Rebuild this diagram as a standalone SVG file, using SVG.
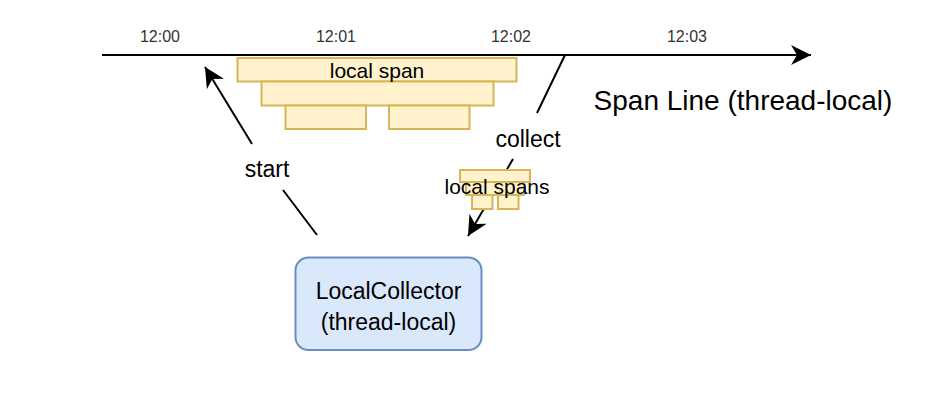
<svg xmlns="http://www.w3.org/2000/svg" width="926" height="404" viewBox="0 0 926 404">
<defs>
<style>
text{font-family:"Liberation Sans",Arial,sans-serif;fill:#000;text-anchor:middle}
.tick{font-size:16px;fill:#333}
.span{fill:#fff2cc;stroke:#d6b656;stroke-width:2}
.conn{fill:none;stroke:#000;stroke-width:2}
.lbl{font-size:23px}
.sl{font-size:21px}
</style>
<marker id="arr" markerUnits="userSpaceOnUse" viewBox="-21 -11 22 22" refX="0" refY="0" markerWidth="22" markerHeight="22" orient="auto">
<path d="M0,0 L-20,-10 L-14,0 L-20,10 Z" fill="#000"/>
</marker>
</defs>
<rect width="926" height="404" fill="#fff"/>
<g id="connectors">
<path id="timeline" class="conn" d="M102,55 L811,55" marker-end="url(#arr)"/>
<path id="start-edge" class="conn" d="M317,235 L283,190 M252,144 L205,67" marker-end="url(#arr)"/>
<path id="collect-edge" class="conn" d="M565,55 L537,113 M513,159 L468,236" marker-end="url(#arr)"/>
<text class="lbl" x="267" y="177">start</text>
<text class="lbl" x="528" y="147">collect</text>
</g>
<g id="ticks">
<text class="tick" x="160" y="42">12:00</text>
<text class="tick" x="336" y="42">12:01</text>
<text class="tick" x="511" y="42">12:02</text>
<text class="tick" x="687" y="42">12:03</text>
</g>
<g id="span-line-label">
<text x="743" y="110" style="font-size:28px">Span Line (thread-local)</text>
</g>
<g id="local-span">
<rect class="span" x="237.5" y="58" width="279" height="23.5"/>
<rect class="span" x="261.5" y="81.5" width="232" height="24"/>
<rect class="span" x="285.5" y="105.5" width="80.5" height="23.5"/>
<rect class="span" x="389" y="105.5" width="80.5" height="23.5"/>
<text class="sl" x="377" y="78">local span</text>
</g>
<g id="local-spans">
<rect class="span" x="460" y="170" width="70" height="12"/>
<rect class="span" x="466" y="182" width="58" height="13"/>
<rect class="span" x="472" y="195" width="20.5" height="14"/>
<rect class="span" x="498" y="195" width="20.5" height="14"/>
<text class="sl" x="497" y="194">local spans</text>
</g>
<g id="local-collector">
<rect x="295.5" y="257.5" width="186" height="92.5" rx="13" fill="#dae8fc" stroke="#6c8ebf" stroke-width="2"/>
<text class="lbl" x="388.5" y="299">LocalCollector</text>
<text class="lbl" x="388.5" y="330">(thread-local)</text>
</g>
</svg>
